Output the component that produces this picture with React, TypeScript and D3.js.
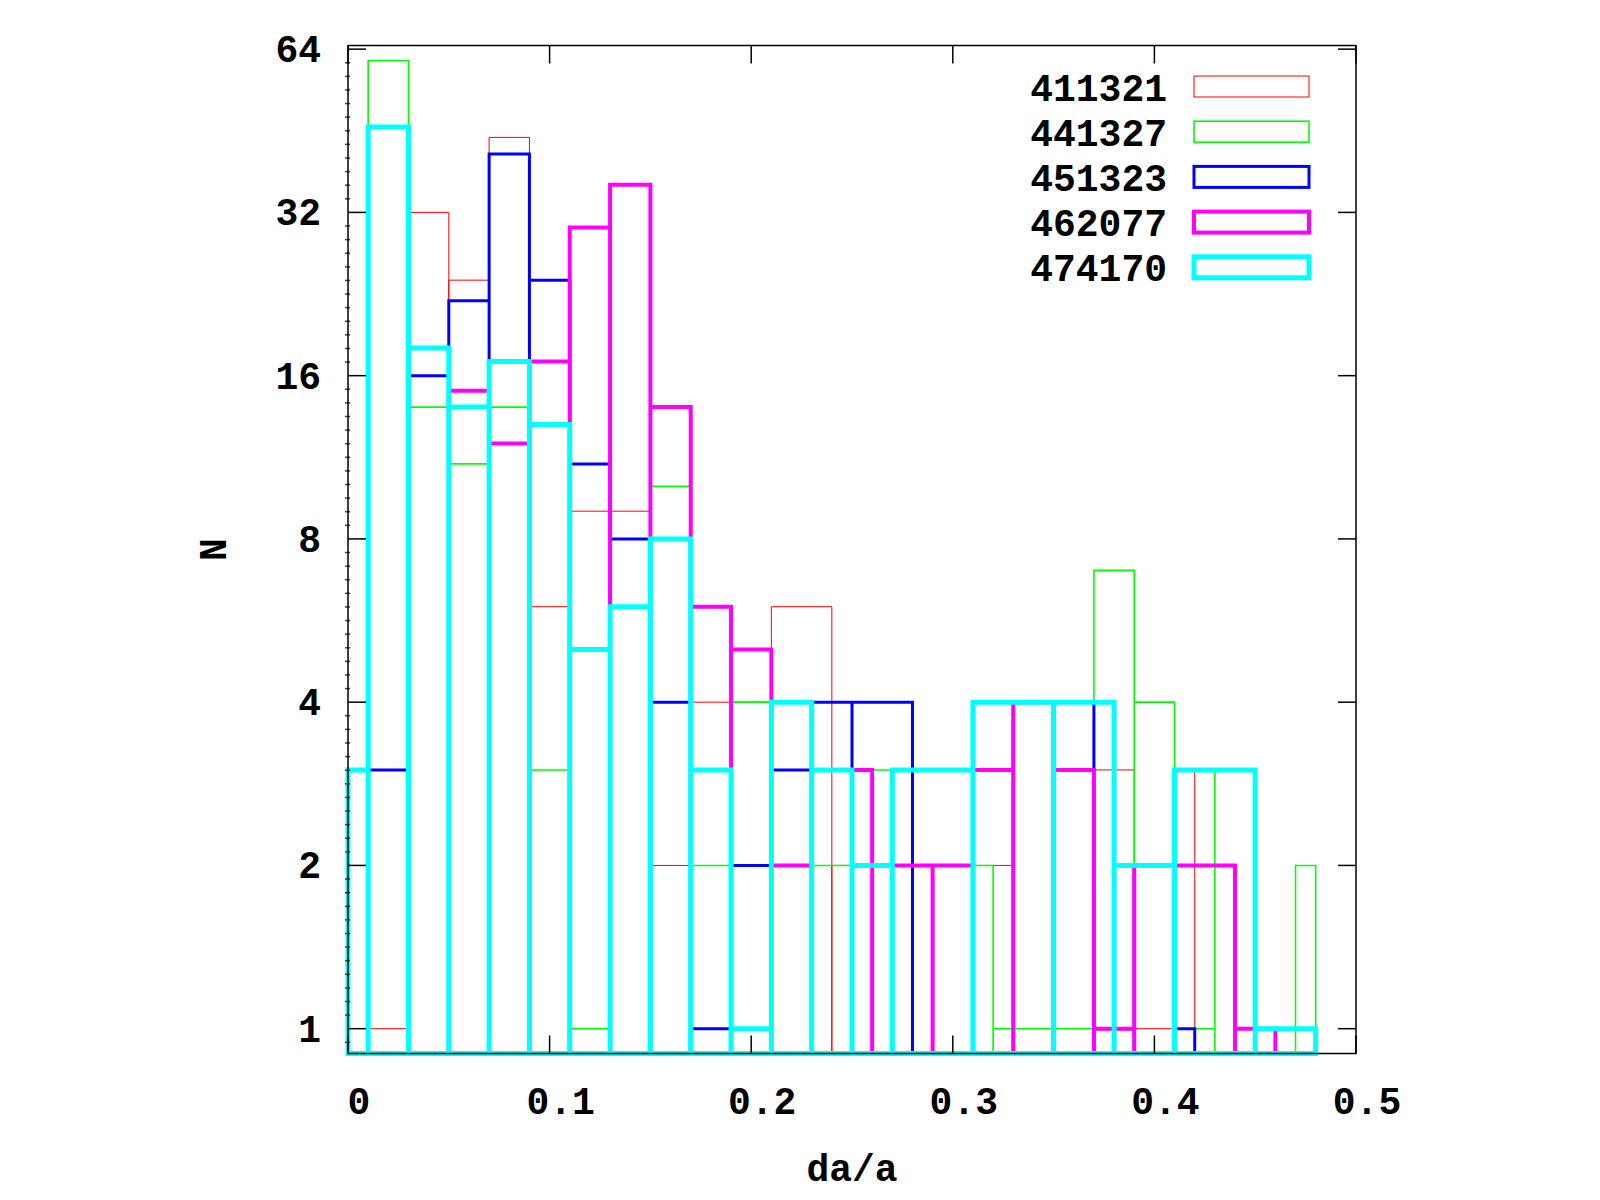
import React from 'react';
import * as d3 from 'd3';

// runs shown in the legend, drawn in this order (last one on top)
const RUNS = ['411321', '441327', '451323', '462077', '474170'];
const COLORS = ['#ff0000', '#00ff00', '#0000ff', '#ff00ff', '#00ffff'];
const LINE_W = [1, 1.6, 3, 4, 5];

// non-empty histogram bins: bin centre in da/a, and the count N
const x411321 = [0.02, 0.04, 0.06, 0.08, 0.10, 0.12, 0.14, 0.16, 0.18, 0.20, 0.22, 0.26, 0.28, 0.30, 0.32, 0.34, 0.36, 0.38, 0.40, 0.42];
const n411321 = [1, 32, 24, 44, 6, 9, 9, 2, 4, 4, 6, 2, 2, 2, 2, 4, 3, 3, 1, 3];

const x441327 = [0.02, 0.04, 0.06, 0.08, 0.10, 0.12, 0.14, 0.16, 0.18, 0.20, 0.22, 0.24, 0.26, 0.28, 0.30, 0.34, 0.36, 0.38, 0.40, 0.42, 0.44, 0.46, 0.48];
const n441327 = [61, 14, 11, 14, 3, 1, 8, 10, 2, 4, 2, 2, 3, 2, 2, 1, 1, 7, 4, 1, 3, 1, 2];

const x451323 = [0.02, 0.04, 0.06, 0.08, 0.10, 0.12, 0.14, 0.16, 0.18, 0.20, 0.22, 0.24, 0.26, 0.30, 0.32, 0.34, 0.36, 0.38, 0.40, 0.42];
const n451323 = [3, 16, 22, 41, 24, 11, 8, 4, 1, 2, 3, 4, 4, 2, 4, 4, 4, 1, 2, 1];

const x462077 = [0.06, 0.08, 0.10, 0.12, 0.14, 0.16, 0.18, 0.20, 0.22, 0.24, 0.28, 0.30, 0.32, 0.34, 0.36, 0.38, 0.40, 0.42, 0.46];
const n462077 = [15, 12, 17, 30, 36, 14, 6, 5, 2, 3, 2, 2, 3, 4, 3, 1, 2, 2, 1];

const x474170 = [0.00, 0.02, 0.04, 0.06, 0.08, 0.10, 0.12, 0.14, 0.16, 0.18, 0.20, 0.22, 0.24, 0.26, 0.28, 0.34, 0.36, 0.40, 0.42, 0.48];
const n474170 = [3, 46, 18, 14, 17, 13, 5, 6, 8, 3, 1, 4, 3, 2, 3, 4, 4, 2, 3, 1];

const BIN_X = [x411321, x441327, x451323, x462077, x474170];
const BIN_N = [n411321, n441327, n451323, n462077, n474170];

const Y_TICKS = [1, 2, 4, 8, 16, 32, 64];
const X_TICKS = [0, 0.1, 0.2, 0.3, 0.4, 0.5];

const FONT = '"Liberation Mono", "DejaVu Sans Mono", monospace';

// boxes touch their neighbours (gnuplot autowidth), last box stops at its centre
function boxEdges(xs: number[]) {
    return xs.map((xc, i) => {
        const lo = i === 0 ? xc - (xs[1] - xc) / 2 : (xs[i - 1] + xc) / 2;
        const hi = i === xs.length - 1 ? xc : (xc + xs[i + 1]) / 2;
        return [Math.max(0, lo), hi];
    });
}

export default function App() {
    const width = 1600;
    const height = 1200;
    const plot = { left: 348, right: 1356, top: 45.5, bottom: 1053.5 };

    const x = d3.scaleLinear().domain([0, 0.5]).range([plot.left, plot.right]);
    const y = d3.scaleLog().base(2).domain([0.9, 65]).range([plot.bottom, plot.top]);
    const yb = y.range()[0];

    const paths = BIN_X.map((xs, s) => {
        const edges = boxEdges(xs);
        return edges
            .map(([lo, hi], i) => `M${x(lo)},${yb}V${y(BIN_N[s][i])}H${x(hi)}V${yb}Z`)
            .join('');
    });

    // small marks along the left axis
    const minor = d3.range(-1, 73).filter(k => k % 12 !== 0).map(k => Math.pow(2, k / 12))
        .filter(v => v > 0.9 && v < 65);

    const legendY = (i: number) => 86.5 + i * 45.2;

    return (
        <svg width={width} height={height} style={{ position: 'absolute', left: 0, top: 0, background: '#fff' }}>
            {paths.map((d, s) => (
                <path key={RUNS[s]} d={d} fill="none" stroke={COLORS[s]} strokeWidth={LINE_W[s]}
                    strokeLinejoin="miter" />
            ))}

            {/* legend */}
            {RUNS.map((r, i) => (
                <g key={r}>
                    <text x={1167} y={legendY(i) + 14} textAnchor="end" fontFamily={FONT}
                        fontWeight="bold" fontSize={38}>{r}</text>
                    <rect x={1194} y={legendY(i) - 10.5} width={115} height={21} fill="none"
                        stroke={COLORS[i]} strokeWidth={LINE_W[i]} />
                </g>
            ))}

            {/* ticks */}
            {minor.map((v, i) => (
                <line key={i} x1={plot.left - 3} x2={plot.left + 2} y1={y(v)} y2={y(v)} stroke="#444" strokeWidth={1.5} />
            ))}
            {Y_TICKS.map(t => (
                <g key={t}>
                    <line x1={plot.left} x2={plot.left + 18} y1={y(t)} y2={y(t)} stroke="#000" strokeWidth={1.5} />
                    <line x1={plot.right - 18} x2={plot.right} y1={y(t)} y2={y(t)} stroke="#000" strokeWidth={1.5} />
                    <text x={321} y={y(t) + 13} textAnchor="end" fontFamily={FONT} fontWeight="bold" fontSize={38}>{t}</text>
                </g>
            ))}
            {X_TICKS.map(t => (
                <g key={t}>
                    <line x1={x(t)} x2={x(t)} y1={plot.bottom} y2={plot.bottom - 18} stroke="#000" strokeWidth={1.5} />
                    <line x1={x(t)} x2={x(t)} y1={plot.top} y2={plot.top + 18} stroke="#000" strokeWidth={1.5} />
                    <text x={x(t) + 11} y={1114} textAnchor="middle" fontFamily={FONT} fontWeight="bold" fontSize={38}>{t === 0 ? '0' : String(t)}</text>
                </g>
            ))}

            <rect x={plot.left} y={plot.top} width={plot.right - plot.left} height={plot.bottom - plot.top}
                fill="none" stroke="#000" strokeWidth={1.5} />

            <text x={(plot.left + plot.right) / 2} y={1181} textAnchor="middle" fontFamily={FONT}
                fontWeight="bold" fontSize={38}>da/a</text>
            <text transform={`translate(226,${(plot.top + plot.bottom) / 2}) rotate(-90)`} textAnchor="middle"
                fontFamily={FONT} fontWeight="bold" fontSize={38}>N</text>
        </svg>
    );
}
